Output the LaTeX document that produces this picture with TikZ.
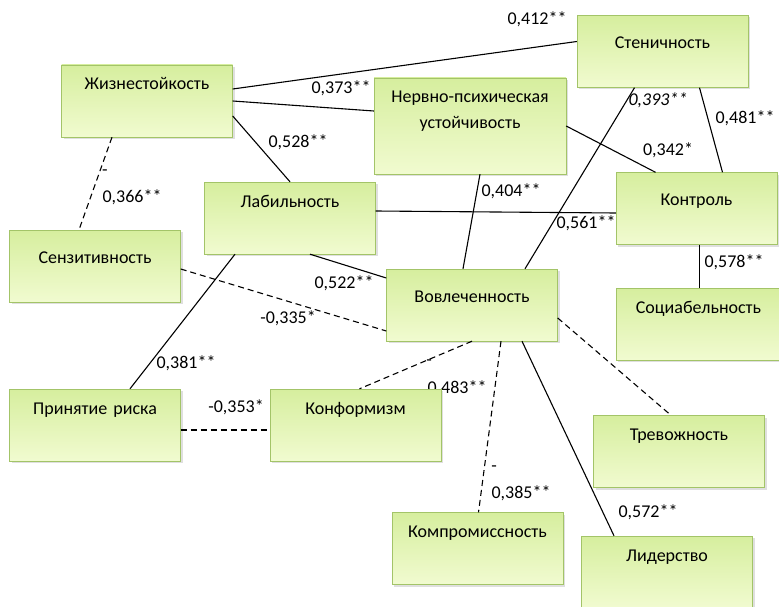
\documentclass[tikz,border=0pt]{standalone}
\usepackage{fontspec}
\setmainfont{Carlito}
\usetikzlibrary{shadows}
\definecolor{facttop}{RGB}{214,238,158}
\definecolor{factbot}{RGB}{241,251,208}
\definecolor{factline}{RGB}{163,196,104}
\tikzset{
	fact/.style={draw=factline, top color=facttop, bottom color=factbot,
		drop shadow={shadow xshift=2pt, shadow yshift=-2pt, opacity=0.25},
		inner sep=0pt, text width=171pt, align=center, text height=25pt, text depth=47pt},
	factlow/.style={fact, text height=33pt, text depth=39pt},
	coef/.style={inner sep=0pt},
	corr/.style={draw, line width=1.1pt},
	negcorr/.style={corr, dash pattern=on 6pt off 4pt}
}

\begin{document}
\begin{tikzpicture}[x=1pt, y=-1pt, font=\fontsize{18}{25}\selectfont]
\useasboundingbox (0,0) rectangle (779,607);
\clip (0,0) rectangle (779,607);
\fill[white] (0,0) rectangle (779,607);
% coefficients
\node[coef] (c412) at (537,19) {0,412**};
\node[coef] (c373) at (341,88) {0,373**};
\node[coef] (c528) at (298,142) {0,528**};
\node[coef] (m366) at (105,173) {-};
\node[coef] (c366) at (132,197) {0,366**};
\node[coef] (c393) at (658,100) {\itshape 0,393**};
\node[coef] (c481) at (745,118) {0,481**};
\node[coef] (c342) at (668,150) {0,342*};
\node[coef] (c404) at (511,191) {0,404**};
\node[coef] (c561) at (586,223) {0,561**};
\node[coef] (c522) at (344,283) {0,522**};
\node[coef] (c335) at (288,318) {-0,335*};
\node[coef] (c381) at (186,363) {0,381**};
\node[coef] (c578) at (734,262) {0,578**};
\node[coef] (c353) at (236,407) {-0,353*};
\node[coef] (m483) at (429,363) {-};
\node[coef] (c483) at (457,388) {0,483**};
\node[coef] (m385) at (494,469) {-};
\node[coef] (c385) at (521,493) {0,385**};
\node[coef] (c572) at (648,512) {0,572**};
% factors
\node[fact] (zh) at (147,101) {Жизнестойкость};
\node[factlow] (sten) at (662.5,51.5) {Стеничность};
\node[fact, text width=192pt, text depth=71pt] (nps) at (470,126) {Нервно-психическая\\устойчивость};
\node[fact] (lab) at (290,218) {Лабильность};
\node[factlow, text width=161pt] (kontr) at (696.5,208.5) {Контроль};
\node[factlow] (sens) at (95,266) {Сензитивность};
\node[factlow] (vovl) at (472,305) {Вовлеченность};
\node[fact, text width=165pt] (soc) at (698.5,324) {Социабельность};
\node[fact] (prin) at (95,425) {Принятие риска};
\node[fact] (konf) at (355.5,425) {Конформизм};
\node[fact] (trev) at (679,451.5) {Тревожность};
\node[fact] (komp) at (477.5,548.5) {Компромиссность};
\node[fact] (lid) at (667,572) {Лидерство};
% links
\draw[corr] ([yshift=12pt]zh.east) -- ([yshift=10pt]sten.west);
\draw[corr] (zh.east) -- ([yshift=15pt]nps.west);
\draw[corr] ([yshift=-15pt]zh.east) -- (lab.north);
\draw[negcorr] ([xshift=-35pt]zh.south) -- ([xshift=-16pt]sens.north);
\draw[corr] ([xshift=-28pt]sten.south) -- ([xshift=53pt]vovl.north);
\draw[corr] ([xshift=37pt]sten.south) -- ([xshift=26pt]kontr.north);
\draw[corr] (nps.east) -- ([xshift=-41pt]kontr.north);
\draw[corr] ([xshift=10pt]nps.south) -- ([xshift=-9pt]vovl.north);
\draw[corr] ([yshift=7pt]lab.east) -- ([yshift=-4.5pt]kontr.west);
\draw[corr] ([xshift=20pt]lab.south) -- ([yshift=27pt]vovl.west);
\draw[corr] ([xshift=-55pt]lab.south) -- ([xshift=35pt]prin.north);
\draw[negcorr] ([yshift=-3pt]sens.east) -- ([yshift=-26pt]vovl.west);
\draw[corr] ([xshift=3pt]kontr.south) -- ([xshift=1pt]soc.north);
\draw[negcorr] ([yshift=-5pt]prin.east) -- ([yshift=-5pt]konf.west);
\draw[negcorr] (vovl.south) -- ([xshift=4pt]konf.north);
\draw[negcorr] ([xshift=29pt]vovl.south) -- ([xshift=1pt]komp.north);
\draw[corr] ([xshift=50pt]vovl.south) -- ([xshift=-53pt]lid.north);
\draw[negcorr] ([yshift=-13pt]vovl.east) -- ([xshift=-8pt]trev.north);
\end{tikzpicture}
\end{document}
